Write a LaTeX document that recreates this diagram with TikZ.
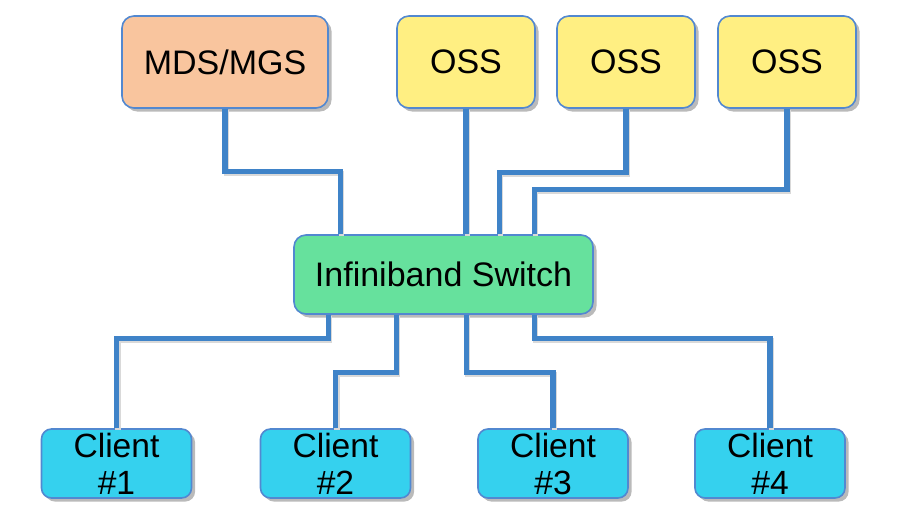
\documentclass[tikz,border=0pt]{standalone}
\usepackage{fontspec}
\setmainfont{Liberation Sans}
\usetikzlibrary{shadows,calc,positioning}

\definecolor{linkblue}{HTML}{3F83C8}
\definecolor{edgeblue}{HTML}{5288D0}
\definecolor{mdsfill}{HTML}{F9C59E}
\definecolor{ossfill}{HTML}{FFEF82}
\definecolor{swfill}{HTML}{66E19D}
\definecolor{clfill}{HTML}{35D1EE}

\tikzset{
    box/.style={draw=edgeblue, line width=0.8pt, rounded corners=6pt,
        drop shadow={shadow xshift=1.8pt, shadow yshift=-1.8pt, opacity=0.45, fill=black!60},
        inner sep=0pt, font=\fontsize{17}{18.5}\selectfont, align=center},
    server/.style={box, minimum width=69pt, minimum height=46pt, fill=ossfill},
    client/.style={box, minimum width=75pt, minimum height=34.5pt, fill=clfill,
        rounded corners=5pt, font=\fontsize{16.8}{18.5}\selectfont},
    link/.style={draw=linkblue, line width=2.6pt,
        preaction={draw=black!15, line width=2.6pt, transform canvas={shift={(0.7pt,-0.7pt)}}}}
}

\begin{document}
\begin{tikzpicture}[x=0.5pt, y=-0.5pt]
    \useasboundingbox (0,0) rectangle (915,523);

    % Servers
    \node[box, fill=mdsfill, minimum width=103pt, minimum height=46pt] (mds) at (225,62) {MDS/MGS};
    \node[server] (oss1) at (466,62) {OSS};
    \node[server] (oss2) at (626,62) {OSS};
    \node[server] (oss3) at (787,62) {OSS};

    % Switch
    \node[box, fill=swfill, minimum width=149.5pt, minimum height=39.5pt] (sw) at (443.5,274.5) {Infiniband Switch};

    % Clients
    \node[client] (c1) at (116.5,463.5) {Client\\\#1};
    \node[client] (c2) at (335.5,463.5) {Client\\\#2};
    \node[client] (c3) at (553,463.5) {Client\\\#3};
    \node[client] (c4) at (770,463.5) {Client\\\#4};

    % Links to the servers
    \draw[link] (mds.south) -- ++(0,63) -| ($(sw.north west)+(47,0)$);
    \draw[link] (oss1.south) -- (sw.north -| oss1.south);
    \draw[link] (oss2.south) -- ++(0,64) -| ($(sw.north west)+(206,0)$);
    \draw[link] (oss3.south) -- ++(0,81) -| ($(sw.north west)+(241,0)$);

    % Links to the clients
    \draw[link] ($(sw.south west)+(35,0)$) -- ++(0,24) -| (c1.north);
    \draw[link] ($(sw.south west)+(103,0)$) -- ++(0,58) -| (c2.north);
    \draw[link] ($(sw.south west)+(173,0)$) -- ++(0,58) -| (c3.north);
    \draw[link] ($(sw.south west)+(241,0)$) -- ++(0,24) -| (c4.north);
\end{tikzpicture}
\end{document}
